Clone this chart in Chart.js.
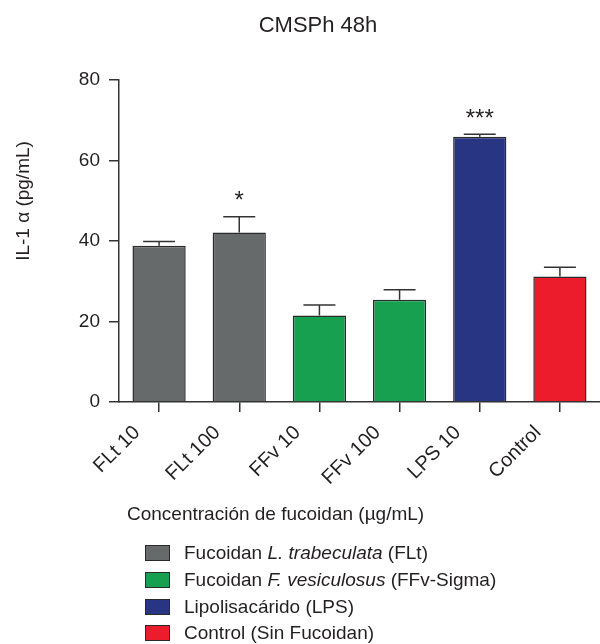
<!DOCTYPE html>
<html>
<head>
<meta charset="utf-8">
<script src="https://cdn.jsdelivr.net/npm/chart.js@4"></script>
<style>
  body { margin: 0; background: #fff; font-family: "Liberation Sans", Arial, sans-serif; color: #231f20; }
  #wrap { position: relative; width: 600px; height: 644px; }
  #legend { position: absolute; left: 145px; top: 540px; font-size: 19px; }
  #legend .row { height: 26.7px; display: flex; align-items: center; }
  #legend .box { width: 25px; height: 16px; border: 1px solid #2a2a2a; margin-right: 14px; box-sizing: border-box; }
</style>
</head>
<body>
<div id="wrap">
  <canvas id="chart" width="600" height="644"></canvas>
  <div id="legend">
    <div class="row"><span class="box" style="background:#666a6a"></span><span>Fucoidan <i>L. trabeculata</i> (FLt)</span></div>
    <div class="row"><span class="box" style="background:#17a04f"></span><span>Fucoidan <i>F. vesiculosus</i> (FFv-Sigma)</span></div>
    <div class="row"><span class="box" style="background:#283583"></span><span>Lipolisacárido (LPS)</span></div>
    <div class="row"><span class="box" style="background:#ec1c2c"></span><span>Control (Sin Fucoidan)</span></div>
  </div>
</div>
<script>
const categories = ['FLt 10', 'FLt 100', 'FFv 10', 'FFv 100', 'LPS 10', 'Control'];
const means = [38.8, 42.1, 21.5, 25.4, 65.9, 31.2];
const errors = [1.1, 3.9, 2.6, 2.5, 0.6, 2.3];
const stars = ['', '*', '', '', '***', ''];
const barColors = ['#666a6a', '#666a6a', '#17a04f', '#17a04f', '#283583', '#ec1c2c'];
const yTicks = [0, 20, 40, 60, 80];

const FONT = '"Liberation Sans", Arial, sans-serif';
const INK = '#231f20';

// error bars (upper only) and significance stars
const errorBars = {
  id: 'errorBars',
  afterDatasetsDraw(chart) {
    const ctx = chart.ctx;
    const y = chart.scales.y;
    const meta = chart.getDatasetMeta(0);
    ctx.save();
    ctx.strokeStyle = '#333';
    ctx.lineWidth = 1.5;
    meta.data.forEach((bar, i) => {
      const top = y.getPixelForValue(means[i] + errors[i]);
      ctx.beginPath();
      ctx.moveTo(bar.x, bar.y);
      ctx.lineTo(bar.x, top);
      ctx.moveTo(bar.x - 16, top);
      ctx.lineTo(bar.x + 16, top);
      ctx.stroke();
      if (stars[i]) {
        ctx.fillStyle = INK;
        ctx.font = '24px ' + FONT;
        ctx.textAlign = 'center';
        ctx.textBaseline = 'bottom';
        ctx.fillText(stars[i], bar.x, top - 3);
      }
    });
    ctx.restore();
  }
};

// chart title, axis titles
const extraText = {
  id: 'extraText',
  afterDraw(chart) {
    const ctx = chart.ctx;
    ctx.save();
    ctx.fillStyle = INK;
    ctx.textBaseline = 'middle';
    ctx.font = '22px ' + FONT;
    ctx.textAlign = 'center';
    ctx.fillText('CMSPh 48h', 318, 26);
    ctx.font = '19px ' + FONT;
    ctx.textAlign = 'left';
    ctx.fillText('Concentración de fucoidan (µg/mL)', 127, 515);
    ctx.translate(24, 201);
    ctx.rotate(-Math.PI / 2);
    ctx.textAlign = 'center';
    ctx.fillText('IL-1 α (pg/mL)', 0, 0);
    ctx.restore();
  }
};

new Chart(document.getElementById('chart'), {
  type: 'bar',
  data: {
    labels: categories,
    datasets: [{
      data: means,
      backgroundColor: barColors,
      borderColor: '#2a2a2a',
      borderWidth: 1.5,
      categoryPercentage: 1,
      barPercentage: 0.664
    }]
  },
  options: {
    responsive: false,
    animation: false,
    layout: { padding: { top: 80, left: 0, right: 0, bottom: 0 } },
    plugins: { legend: { display: false }, tooltip: { enabled: false } },
    scales: {
      x: {
        afterFit(scale) { scale.height = 242; },
        grid: { display: true, drawOnChartArea: false, offset: false, tickLength: 10, color: '#333', lineWidth: 1.5 },
        border: { display: true, color: '#333', width: 1.5 },
        ticks: {
          color: INK,
          font: { family: FONT, size: 20 },
          minRotation: 45,
          maxRotation: 45,
          padding: 9,
          labelOffset: -22
        }
      },
      y: {
        min: 0,
        max: 80,
        afterFit(scale) { scale.width = 119; },
        afterBuildTicks(scale) { scale.ticks = yTicks.map(v => ({ value: v })); },
        grid: { display: true, drawOnChartArea: false, tickLength: 10, color: '#333', lineWidth: 1.5 },
        border: { display: true, color: '#333', width: 1.5 },
        ticks: { color: INK, font: { family: FONT, size: 19 }, padding: 9 }
      }
    }
  },
  plugins: [errorBars, extraText]
});
</script>
</body>
</html>
